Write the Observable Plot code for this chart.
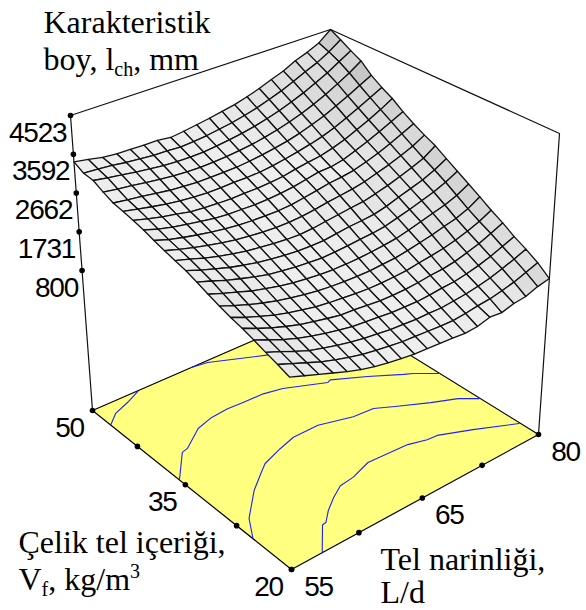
<!DOCTYPE html>
<html><head><meta charset="utf-8">
<script src="https://cdn.jsdelivr.net/npm/d3@7"></script>
<script src="https://cdn.jsdelivr.net/npm/@observablehq/plot@0.6"></script>
<style>html,body{margin:0;background:#fff}svg{display:block}</style></head><body><div id="c"></div><script>
// ---- data ----
const slenderness=[55,56.25,57.5,58.75,60,61.25,62.5,63.75,65,66.25,67.5,68.75,70,71.25,72.5,73.75,75,76.25,77.5,78.75,80];
const fibre=[50,48.5,47,45.5,44,42.5,41,39.5,38,36.5,35,33.5,32,30.5,29,27.5,26,24.5,23,21.5,20];
const lchRows=[
[3410,3350,3280,3250,3240,3230,3230,3190,3230,3280,3330,3390,3450,3540,3640,3760,3870,4030,4140,4280,4523],
[3280,3260,3230,3180,3150,3120,3110,3090,3110,3140,3190,3240,3310,3390,3490,3600,3730,3870,4000,4170,4380],
[3250,3190,3140,3090,3050,3010,2990,2980,2990,3020,3060,3110,3170,3250,3340,3450,3570,3710,3860,4040,4220],
[3120,3070,3030,2980,2940,2900,2880,2870,2880,2900,2930,2970,3030,3100,3190,3290,3410,3550,3710,3880,4080],
[3010,2960,2920,2870,2820,2790,2770,2770,2770,2780,2810,2850,2900,2960,3040,3140,3250,3390,3530,3690,3840],
[2960,2890,2820,2760,2710,2680,2660,2660,2670,2670,2680,2720,2770,2830,2900,2980,3090,3220,3360,3510,3660],
[2900,2810,2730,2670,2600,2570,2550,2540,2550,2550,2570,2600,2660,2710,2750,2830,2930,3060,3190,3340,3510],
[2830,2720,2640,2580,2520,2470,2440,2430,2420,2430,2450,2490,2550,2610,2620,2680,2790,2900,3030,3170,3310],
[2740,2630,2550,2480,2420,2370,2330,2310,2300,2300,2320,2370,2420,2480,2510,2560,2650,2750,2870,3000,3140],
[2660,2560,2470,2390,2320,2260,2220,2190,2170,2170,2190,2230,2280,2320,2360,2420,2510,2600,2710,2830,2990],
[2590,2490,2380,2290,2220,2150,2110,2070,2040,2030,2050,2090,2130,2170,2200,2270,2350,2450,2550,2670,2860],
[2520,2400,2290,2190,2110,2040,1990,1950,1920,1910,1910,1950,1990,2010,2040,2110,2210,2300,2390,2520,2680],
[2420,2310,2190,2090,2000,1920,1870,1830,1800,1780,1790,1810,1840,1860,1900,1980,2060,2150,2240,2360,2510],
[2310,2190,2080,1970,1890,1810,1750,1710,1680,1660,1660,1670,1690,1720,1760,1830,1910,1990,2070,2180,2340],
[2210,2080,1960,1860,1770,1700,1640,1590,1560,1540,1530,1530,1550,1570,1620,1680,1740,1820,1890,2000,2170],
[2120,1980,1860,1750,1660,1590,1520,1480,1450,1420,1400,1400,1410,1430,1480,1520,1570,1640,1730,1840,1990],
[2050,1900,1770,1660,1560,1490,1420,1360,1340,1310,1280,1270,1280,1300,1340,1360,1410,1490,1580,1700,1830],
[1960,1820,1680,1560,1470,1390,1320,1260,1230,1200,1170,1160,1150,1170,1200,1220,1270,1340,1430,1540,1650],
[1860,1730,1590,1460,1370,1290,1220,1160,1120,1080,1060,1040,1040,1030,1060,1090,1140,1200,1290,1390,1500],
[1770,1640,1510,1380,1280,1190,1110,1060,1010,970,950,930,910,900,930,970,1000,1060,1130,1230,1330],
[1670,1550,1430,1310,1190,1090,1010,950,900,860,840,820,800,770,790,870,840,920,950,1050,1110]];
const zTicks=[4523,3592,2662,1731,800];
const vfTicks=[50,42.5,35,27.5,20];
const ldTicks=[55,61.25,67.5,73.75,80];
const vfLabels=["50","","35","","20"];
const ldLabels=["55","","65","","80"];
const contourC_L=[57.8,59.8,60.2,61.2,62.5,63.8,65.2,67.3,71.2,72.8,73.8,76.5,79.9];
const contourC_V=[20,22.8,22.9,24,25.1,26,26.2,27,26.7,26.1,26,24.5,22.4];
const contourB_L=[55,56.2,58.5,60.2,61.2,63.3,65,67.5,70.4,72.4,74.1,76.5,78.6,79.9];
const contourB_V=[25.2,27.6,30.4,32,32.9,33.8,34.4,34.4,33.3,33.1,31.9,30.3,29.1,27.8];
const contourA_L=[55,57.2,57.8,60,61.6,63.4,64.9,66.9,68.6,72,72.4,75.1,77.6,78.3,80];
const contourA_V=[35.9,39.1,39.3,41.2,41.8,42,41.9,41.8,41.3,39.3,39.5,37.6,35.6,35.1,33.4];
const contourD_L=[55,56.2,57.8,59.3];
const contourD_V=[46.9,48.2,49,49.9];
const contourE_L=[64.7,66.2,71];
const contourE_V=[50,49.7,46.8];
const titleLines=["Karakteristik","boy, l_ch, mm"];
const vfTitle=["Çelik tel içeriği,","V_f, kg/m^3"];
const ldTitle=["Tel narinliği,","L/d"];

// ---- the view: a perspective box, floor at zFloor, lid at zTop ----
const zFloor=-2560, zTop=4523;
const quad=(p00,p10,p11,p01)=>{const dx1=p10[0]-p11[0],dx2=p01[0]-p11[0],sx=p00[0]-p10[0]+p11[0]-p01[0],dy1=p10[1]-p11[1],dy2=p01[1]-p11[1],sy=p00[1]-p10[1]+p11[1]-p01[1],den=dx1*dy2-dx2*dy1,g=(sx*dy2-dx2*sy)/den,h=(dx1*sy-sx*dy1)/den,a=p10[0]-p00[0]+g*p10[0],b=p01[0]-p00[0]+h*p01[0],d=p10[1]-p00[1]+g*p10[1],e=p01[1]-p00[1]+h*p01[1];return (u,v)=>{const D=g*u+h*v+1;return [(a*u+b*v+p00[0])/D,(d*u+e*v+p00[1])/D]}};
const floorQ=quad([291,569],[538,434],[331,306],[92,410]),lidQ=quad([288,247],[559,133],[330,29],[70,115]);
const project=(L,V,z)=>{const u=(L-55)/25,v=(V-20)/30,f=floorQ(u,v),t=lidQ(u,v),w=(z-zFloor)/(zTop-zFloor);return [f[0]+w*(t[0]-f[0]),f[1]+w*(t[1]-f[1])]};

// ---- tables for the marks ----
const n=slenderness.length-1, cells=[];
let id=0;
for(let r=0;r<fibre.length-1;r++)for(let c=n-1;c>=0;c--){
  const span=zTop-zFloor;
  const zu=(lchRows[r][c+1]+lchRows[r+1][c+1]-lchRows[r][c]-lchRows[r+1][c])/2*n/span;
  const zv=(lchRows[r][c]+lchRows[r][c+1]-lchRows[r+1][c]-lchRows[r+1][c+1])/2*n/span;
  const g=Math.round(Math.max(192,Math.min(238,248-80*(zu*zu+zv*zv))));
  const shade=`rgb(${g},${g},${g})`;
  id++;
  for(const [a,b] of [[r,c],[r,c+1],[r+1,c+1],[r+1,c],[r,c]])
    cells.push({L:slenderness[b],V:fibre[a],z:lchRows[a][b],id,shade});
}
const X=d=>project(d.L,d.V,d.z)[0], Y=d=>project(d.L,d.V,d.z)[1];
const floorLoop=[[55,20],[80,20],[80,50],[55,50],[55,20]].map(([L,V])=>({L,V,z:zFloor}));
const frame=[{L:55,V:50,z:zFloor},{L:55,V:50,z:zTop},{L:80,V:50,z:zTop},{L:80,V:20,z:zTop},{L:80,V:20,z:zFloor}];
const contourRows=[[contourC_L,contourC_V],[contourB_L,contourB_V],[contourA_L,contourA_V],[contourD_L,contourD_V],[contourE_L,contourE_V]]
  .flatMap(([Ls,Vs],k)=>Ls.map((L,i)=>({L,V:Vs[i],z:zFloor,k})));
const zDots=zTicks.map(z=>({L:55,V:50,z,t:String(z)}));
const vfDots=vfTicks.map((V,i)=>({L:55,V,z:zFloor,t:vfLabels[i]}));
const ldDots=ldTicks.map((L,i)=>({L,V:20,z:zFloor,t:ldLabels[i]}));

// text with sub/superscripts written as _x and ^x
const scripted=(index,scales,values,dims,ctx,next)=>{
  const g=next(index,scales,values,dims,ctx);
  g.querySelectorAll("text").forEach(t=>{
    const s=t.textContent; if(!/[_^]/.test(s)) return;
    const parts=s.split(/([_^][a-z0-9]+)/).filter(p=>p);
    t.textContent=""; let back=0;
    parts.forEach(p=>{
      const sp=document.createElementNS("http://www.w3.org/2000/svg","tspan");
      const isSub=p[0]==="_", isSup=p[0]==="^";
      if(isSub||isSup){sp.textContent=p.slice(1);sp.setAttribute("font-size","20");const d=isSub?6:-12;sp.setAttribute("dy",d);back=-d}
      else{sp.textContent=p;if(back)sp.setAttribute("dy",back);back=0}
      t.append(sp)});
  });
  return g};
const tight=(index,scales,values,dims,ctx,next)=>{
  const g=next(index,scales,values,dims,ctx);
  g.setAttribute("letter-spacing","-1.2");
  return g};
const serif={fontFamily:"Liberation Serif",fontSize:32,fill:"#000",textAnchor:"start",lineAnchor:"bottom",frameAnchor:"top-left",render:scripted};
const sans={fontFamily:"Liberation Sans",fontSize:28,fill:"#000",lineAnchor:"bottom",render:tight};

document.getElementById("c").append(Plot.plot({width:586,height:610,margin:0,
 x:{domain:[0,586],range:[0,586],axis:null},y:{domain:[0,610],range:[0,610],axis:null},color:{type:"identity"},
 marks:[
  Plot.line(frame,{x:X,y:Y,stroke:"#111",strokeWidth:1.2}),
  Plot.line(floorLoop,{x:X,y:Y,fill:"#ffff80",stroke:"#000",strokeWidth:1.2}),
  Plot.line(contourRows,{x:X,y:Y,z:"k",stroke:"#2020ff",strokeWidth:1.1}),
  Plot.line(cells,{x:X,y:Y,z:"id",fill:"shade",stroke:"#111",strokeWidth:1.3}),
  Plot.dot([...zDots,...vfDots,...ldDots],{x:X,y:Y,r:2.8,fill:"#000"}),
  Plot.text(zDots,{x:X,y:Y,text:"t",dx:-4,dy:26,textAnchor:"end",...sans}),
  Plot.text(vfDots,{x:X,y:Y,text:"t",dx:-23,dy:26,...sans}),
  Plot.text(ldDots,{x:X,y:Y,text:"t",dx:27,dy:26,...sans}),
  Plot.text([titleLines[0]],{text:d=>d,dx:43,dy:32,...serif}),
  Plot.text([titleLines[1]],{text:d=>d,dx:43,dy:69,...serif}),
  Plot.text([vfTitle[0]],{text:d=>d,dx:18,dy:552,...serif}),
  Plot.text([vfTitle[1]],{text:d=>d,dx:18,dy:589,...serif}),
  Plot.text([ldTitle[0]],{text:d=>d,dx:380,dy:569,...serif}),
  Plot.text([ldTitle[1]],{text:d=>d,dx:380,dy:602,...serif})
 ]}));
</script></body></html>
